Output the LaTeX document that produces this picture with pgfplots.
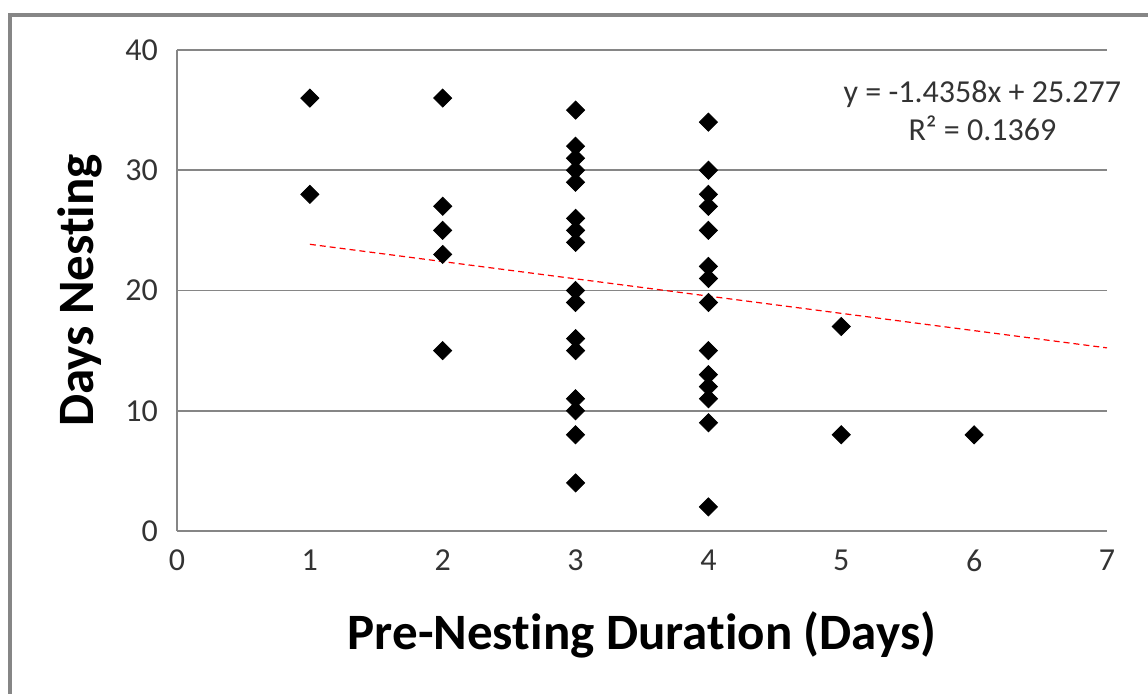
\documentclass[border=0pt]{standalone}
\usepackage{pgfplots}
\pgfplotsset{compat=1.18}
\usepackage{fontspec}
\setmainfont{Carlito}[Ligatures={NoCommon}]
\definecolor{gridgray}{RGB}{134,134,134}
\definecolor{framegray}{RGB}{134,134,134}
\begin{document}
\begin{tikzpicture}[x=1pt,y=1pt]
\useasboundingbox (0,0) rectangle (574,347);
\draw[framegray, line width=1.6pt] (5,0) -- (5,339.5) -- (574,339.5);
\begin{axis}[
  at={(88.5pt,81.5pt)}, anchor=south west,
  scale only axis, width=465pt, height=240.5pt,
  xmin=0, xmax=7, ymin=0, ymax=40,
  xtick={0,1,...,7}, ytick={0,10,...,40},
  axis x line*=bottom, axis y line*=left,
  axis line style={gridgray, line width=0.8pt, -},
  ymajorgrids, grid style={gridgray, line width=0.8pt},
  major tick length=0pt,
  tick label style={font=\fontsize{16}{18}\selectfont, text=black!80},
  /pgf/number format/assume math mode=true,
  xticklabel style={yshift=-6pt},
  yticklabel style={xshift=-6pt},
  xlabel={Pre-Nesting Duration (Days)},
  ylabel={Days Nesting},
  label style={font=\fontsize{25.5}{28}\selectfont\bfseries},
  xlabel style={at={(axis description cs:0.5,0)}, anchor=center, yshift=-52pt},
  ylabel style={at={(axis description cs:0,0.5)}, anchor=center, xshift=0pt, yshift=48.5pt},
  clip=false,
]
\addplot[only marks, mark=square*, mark size=3.2pt, mark options={rotate=45}, black] coordinates {
(1,36) (1,28)
(2,36) (2,27) (2,25) (2,23) (2,15)
(3,35) (3,32) (3,31) (3,30) (3,29) (3,26) (3,25) (3,24) (3,20) (3,19) (3,16) (3,15) (3,11) (3,10) (3,8) (3,4)
(4,34) (4,30) (4,28) (4,27) (4,25) (4,22) (4,21) (4,19) (4,15) (4,13) (4,12) (4,11) (4,9) (4,2)
(5,17) (5,8)
(6,8)
};
\addplot[red, line width=0.6pt, dash pattern=on 3pt off 2pt] coordinates {(1,23.8412) (7,15.2264)};
\node[align=center, font=\fontsize{16}{19}\selectfont, text=black!80] at (rel axis cs:0.866,0.873) {y = -1.4358x + 25.277\\R² = 0.1369};
\end{axis}
\end{tikzpicture}
\end{document}
